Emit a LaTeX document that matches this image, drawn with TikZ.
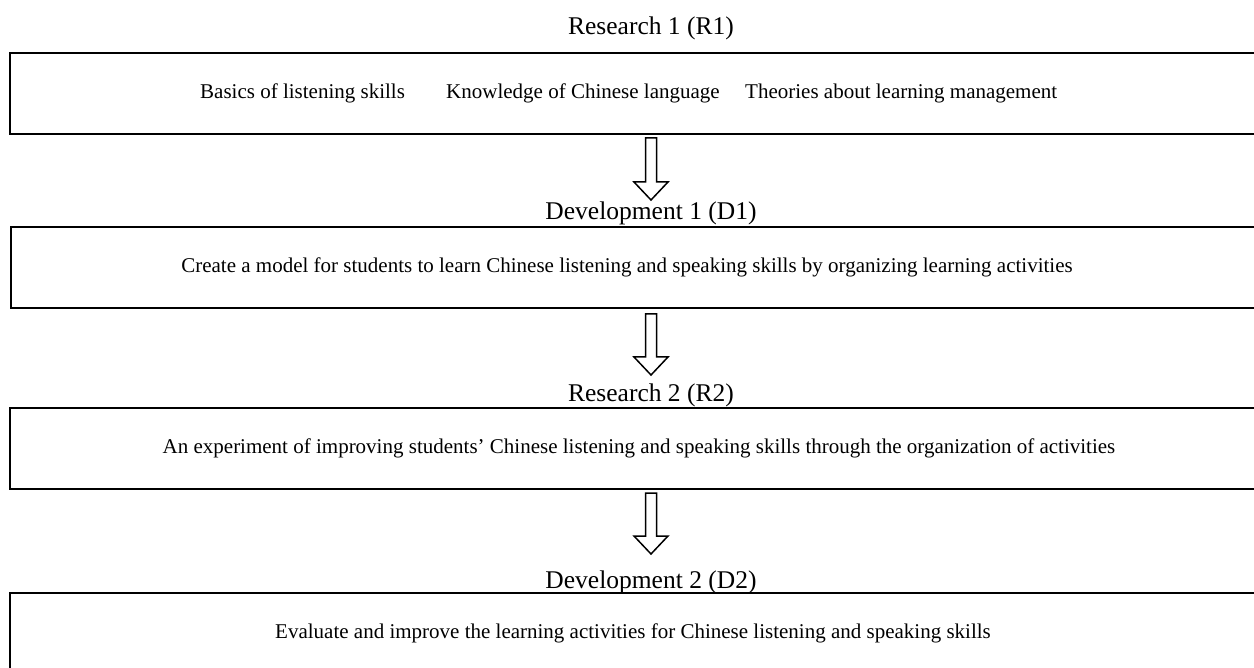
\documentclass[tikz,border=0pt]{standalone}
\usepackage{fontspec}
\setmainfont{Liberation Serif}
\usetikzlibrary{calc}

% hollow block arrow pointing down from #1 to #2
\newcommand\hollowdown[2]{%
  \draw[blockarrow] let \p1=(#1), \p2=(#2) in
    (\x1-5.5pt,\y1) -- (\x1+5.5pt,\y1) -- (\x1+5.5pt,\y2+18pt)
    -- (\x1+17pt,\y2+18pt) -- (\x1,\y2) -- (\x1-17pt,\y2+18pt)
    -- (\x1-5.5pt,\y2+18pt) -- cycle;}

\tikzset{
  stagebox/.style={draw=black, line width=2.4pt, fill=white, inner sep=0pt},
  heading/.style={anchor=base, inner sep=0pt, font=\fontsize{25.5}{30}\selectfont},
  body/.style={inner sep=0pt, font=\fontsize{21}{25}\selectfont},
  blockarrow/.style={draw=black, line width=1.5pt, fill=white, line join=miter},
}

\begin{document}
\begin{tikzpicture}[x=1pt, y=-1pt]
\useasboundingbox (0,0) rectangle (1254,668);

% stage boxes (they run on past the right edge)
\draw[stagebox] (10,53) rectangle (1275,134);
\draw[stagebox] (11,227) rectangle (1275,308);
\draw[stagebox] (10,408) rectangle (1275,489);
\draw[stagebox] (10,593) rectangle (1275,680);

% stage headings
\node[heading] (h1) at (651,35) {Research 1 (R1)};
\node[heading] (h2) at (651,220) {Development 1 (D1)};
\node[heading] (h3) at (651,402) {Research 2 (R2)};
\node[heading] (h4) at (651,588) {Development 2 (D2)};

% box contents
\node[body, anchor=west] (r1a) at (200,93.5) {Basics of listening skills};
\node[body, anchor=west] (r1b) at (446,93.5) {Knowledge of Chinese language};
\node[body, anchor=west] (r1c) at (745,93.5) {Theories about learning management};
\node[body] (d1) at (627,267.5) {Create a model for students to learn Chinese listening and speaking skills by organizing learning activities};
\node[body] (r2) at (639,448.5) {An experiment of improving students’ Chinese listening and speaking skills through the organization of activities};
\node[body] (d2) at (633,633.5) {Evaluate and improve the learning activities for Chinese listening and speaking skills};

% arrows between stages
\coordinate (a1s) at (651,138);  \coordinate (a1e) at (651,200);
\coordinate (a2s) at (651,314);  \coordinate (a2e) at (651,375);
\coordinate (a3s) at (651,493);  \coordinate (a3e) at (651,554);
\hollowdown{a1s}{a1e}
\hollowdown{a2s}{a2e}
\hollowdown{a3s}{a3e}
\end{tikzpicture}
\end{document}
